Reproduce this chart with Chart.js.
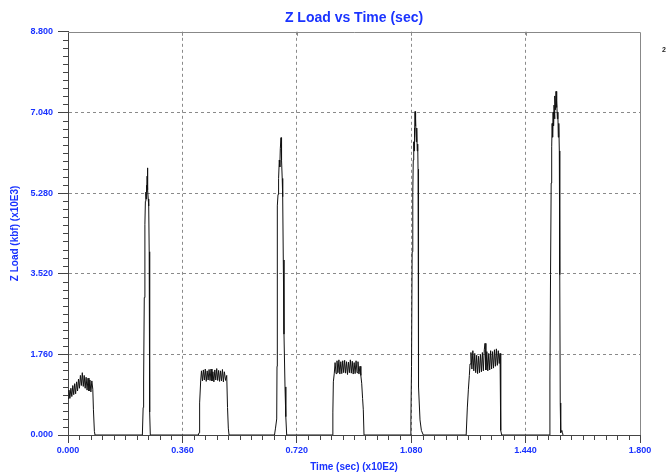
<!DOCTYPE html>
<html>
<head>
<meta charset="utf-8">
<script src="https://cdn.jsdelivr.net/npm/chart.js@4.4.1/dist/chart.umd.min.js"></script>
<style>
  html, body { margin: 0; padding: 0; background: #fff; }
</style>
</head>
<body>
<canvas id="chart" width="670" height="476"></canvas>
<script>
const xTicks = [0, 0.36, 0.72, 1.08, 1.44, 1.8];
const yTicks = [0, 1.76, 3.52, 5.28, 7.04, 8.8];

// [time (sec x10E2), Z load (kbf x10E3)]
const block1 = [
  [0.000, 0.80], [0.003, 0.98], [0.006, 0.80], [0.009, 1.02], [0.012, 0.84],
  [0.015, 1.08], [0.018, 0.88], [0.021, 1.12], [0.024, 0.90], [0.027, 1.16],
  [0.030, 0.96], [0.033, 1.22], [0.036, 1.02], [0.039, 1.30], [0.042, 1.08],
  [0.045, 1.36], [0.048, 1.06], [0.051, 1.30], [0.054, 1.02], [0.057, 1.26],
  [0.060, 0.98], [0.063, 1.24], [0.066, 0.96], [0.069, 1.20], [0.072, 0.94],
  [0.075, 1.18], [0.078, 1.00], [0.080, 0.55], [0.083, 0.08], [0.085, 0.00]
];
const spike1 = [
  [0.2340, 0], [0.2365, 0.60], [0.2380, 1.20], [0.2400, 3.00], [0.2420, 4.60],
  [0.2435, 5.10], [0.2450, 5.30], [0.2460, 5.15], [0.2470, 5.45], [0.2480, 5.30],
  [0.2490, 5.65], [0.2497, 5.83], [0.2505, 5.50], [0.2515, 5.35], [0.2525, 5.15],
  [0.2540, 5.00], [0.2555, 4.00], [0.2565, 2.00], [0.2575, 0.50], [0.2590, 0]
];
const block2 = [
  [0.4100, 0], [0.4125, 0.05], [0.4135, 0.30], [0.4150, 0.70], [0.4175, 1.18],
  [0.4200, 1.40], [0.4230, 1.18], [0.4260, 1.42], [0.4290, 1.20], [0.4320, 1.44],
  [0.4350, 1.17], [0.4380, 1.40], [0.4410, 1.20], [0.4440, 1.43], [0.4470, 1.19],
  [0.4500, 1.44], [0.4530, 1.18], [0.4560, 1.38], [0.4590, 1.16], [0.4620, 1.42],
  [0.4650, 1.20], [0.4680, 1.45], [0.4710, 1.19], [0.4740, 1.41], [0.4770, 1.17],
  [0.4800, 1.40], [0.4830, 1.18], [0.4860, 1.43], [0.4890, 1.16], [0.4920, 1.38],
  [0.4960, 1.19], [0.4995, 1.30], [0.5020, 0.60], [0.5045, 0.15], [0.5067, 0]
];
const spike2 = [
  [0.6498, 0], [0.6530, 0.15], [0.6568, 0.35], [0.6577, 1.50], [0.6587, 5.00],
  [0.6609, 5.25], [0.6627, 5.60], [0.6649, 6.00], [0.6665, 5.85], [0.6681, 6.25],
  [0.6703, 6.49], [0.6715, 6.15], [0.6725, 6.00], [0.6741, 5.60], [0.6756, 5.20],
  [0.6775, 3.82], [0.6797, 2.20], [0.6829, 1.05], [0.6854, 0.40], [0.6882, 0]
];
const block3 = [
  [0.8320, 0], [0.8335, 0.50], [0.8350, 1.16], [0.8380, 1.35], [0.8405, 1.58],
  [0.8435, 1.34], [0.8465, 1.62], [0.8495, 1.36], [0.8525, 1.64], [0.8555, 1.33],
  [0.8585, 1.60], [0.8615, 1.34], [0.8645, 1.62], [0.8675, 1.36], [0.8705, 1.63],
  [0.8735, 1.35], [0.8765, 1.60], [0.8795, 1.32], [0.8825, 1.59], [0.8855, 1.36],
  [0.8885, 1.64], [0.8915, 1.35], [0.8945, 1.61], [0.8975, 1.33], [0.9005, 1.58],
  [0.9035, 1.34], [0.9065, 1.62], [0.9095, 1.36], [0.9125, 1.60], [0.9155, 1.33],
  [0.9189, 1.50], [0.9215, 1.30], [0.9242, 1.13], [0.9270, 0.80], [0.9293, 0.55],
  [0.9315, 0]
];
const spike3 = [
  [1.0770, 0], [1.0790, 0.30], [1.0810, 1.50], [1.0830, 4.00], [1.0850, 5.30],
  [1.0865, 6.00], [1.0880, 6.40], [1.0890, 6.20], [1.0900, 6.70], [1.0910, 6.50],
  [1.0920, 7.06], [1.0930, 6.75], [1.0945, 6.90], [1.0960, 6.40], [1.0975, 6.70],
  [1.0990, 6.20], [1.1005, 6.35], [1.1015, 5.80], [1.1024, 4.50], [1.1030, 2.50],
  [1.1038, 1.05], [1.1077, 0.33], [1.1120, 0.10], [1.1181, 0]
];
const block4 = [
  [1.2530, 0], [1.2566, 0.59], [1.2600, 1.00], [1.2630, 1.30], [1.2651, 1.55],
  [1.2680, 1.80], [1.2710, 1.44], [1.2740, 1.84], [1.2770, 1.40], [1.2800, 1.78],
  [1.2830, 1.36], [1.2860, 1.74], [1.2890, 1.34], [1.2920, 1.72], [1.2950, 1.36],
  [1.2980, 1.76], [1.3010, 1.38], [1.3040, 1.80], [1.3070, 1.40], [1.3100, 1.86],
  [1.3123, 2.00], [1.3150, 1.42], [1.3180, 1.82], [1.3210, 1.40], [1.3240, 1.78],
  [1.3270, 1.42], [1.3300, 1.84], [1.3330, 1.44], [1.3360, 1.82], [1.3390, 1.46],
  [1.3420, 1.86], [1.3450, 1.50], [1.3480, 1.88], [1.3510, 1.52], [1.3540, 1.84],
  [1.3570, 1.56], [1.3595, 1.78], [1.3617, 0.10], [1.3648, 0]
];
const spike4 = [
  [1.5140, 0], [1.5165, 1.20], [1.5185, 3.50], [1.5205, 5.50], [1.5221, 6.29],
  [1.5235, 6.80], [1.5250, 6.50], [1.5265, 7.05], [1.5280, 6.75], [1.5295, 7.20],
  [1.5310, 6.90], [1.5325, 7.40], [1.5340, 7.10], [1.5357, 7.50], [1.5370, 7.15],
  [1.5385, 7.30], [1.5400, 6.90], [1.5415, 7.05], [1.5429, 6.50], [1.5445, 6.80],
  [1.5461, 6.20], [1.5475, 3.50], [1.5490, 0.70], [1.5505, 0.05], [1.5540, 0.10],
  [1.5560, 0.05], [1.5577, 0]
];

const loadPoints = [block1, spike1, block2, spike2, block3, spike3, block4, spike4]
  .flat()
  .map(([x, y]) => ({ x, y }));

const blue = "#1a33ff";
const fontFamily = "'Liberation Sans', Arial, sans-serif";
const minorPerMajor = 10;

// minor ticks, plot frame and the stray "2" at right
const extras = {
  id: "extras",
  afterDraw(chart) {
    const { ctx, chartArea: a, scales: { x, y } } = chart;
    ctx.save();
    ctx.strokeStyle = "#444";
    ctx.lineWidth = 1;
    ctx.beginPath();
    for (let i = 0; i < yTicks.length - 1; i++) {
      const step = (yTicks[i + 1] - yTicks[i]) / minorPerMajor;
      for (let k = 1; k < minorPerMajor; k++) {
        const py = Math.round(y.getPixelForValue(yTicks[i] + k * step)) + 0.5;
        ctx.moveTo(a.left - 5, py);
        ctx.lineTo(a.left, py);
      }
    }
    for (let i = 0; i < xTicks.length - 1; i++) {
      const step = (xTicks[i + 1] - xTicks[i]) / minorPerMajor;
      for (let k = 1; k < minorPerMajor; k++) {
        const px = Math.round(x.getPixelForValue(xTicks[i] + k * step)) + 0.5;
        ctx.moveTo(px, a.bottom);
        ctx.lineTo(px, a.bottom + 5);
      }
    }
    ctx.stroke();

    ctx.strokeStyle = "#888";
    ctx.beginPath();
    ctx.moveTo(a.left, Math.round(a.top) + 0.5);
    ctx.lineTo(Math.round(a.right) + 0.5, Math.round(a.top) + 0.5);
    ctx.lineTo(Math.round(a.right) + 0.5, a.bottom);
    xTicks.slice(1, -1).forEach(v => {
      const px = Math.round(x.getPixelForValue(v)) + 0.5;
      ctx.moveTo(px, a.top);
      ctx.lineTo(px, a.top + 4);
    });
    ctx.stroke();

    ctx.fillStyle = "#222";
    ctx.font = "bold 7px " + fontFamily;
    ctx.textAlign = "center";
    ctx.textBaseline = "middle";
    ctx.fillText("2", 664, 50);
    ctx.restore();
  }
};

const ctx = document.getElementById("chart").getContext("2d");
const chart = new Chart(ctx, {
  type: "line",
  data: {
    datasets: [
      {
        label: "Z Load",
        data: loadPoints,
        borderColor: "#111",
        borderWidth: 1,
        pointRadius: 0,
        tension: 0,
        fill: false
      }
    ]
  },
  options: {
    responsive: false,
    animation: false,
    layout: { padding: { top: 0, left: 0, right: 30, bottom: 0 } },
    plugins: {
      legend: { display: false },
      tooltip: { enabled: false },
      title: {
        display: true,
        text: "Z Load vs Time (sec)",
        color: blue,
        fullSize: false,
        font: { family: fontFamily, size: 14, weight: "bold" },
        padding: { top: 10, bottom: 5 }
      }
    },
    scales: {
      x: {
        type: "linear",
        min: 0,
        max: 1.8,
        afterBuildTicks: s => { s.ticks = xTicks.map(v => ({ value: v })); },
        afterFit: s => { s.height = 41; },
        ticks: {
          color: blue,
          padding: 2,
          maxRotation: 0,
          font: { family: fontFamily, size: 9, weight: "bold" },
          callback: v => Number(v).toFixed(3)
        },
        grid: {
          color: c => (c.tick && (c.tick.value === 0 || c.tick.value === 1.8)) ? "rgba(0,0,0,0)" : "#8a8a8a",
          tickColor: "#444",
          tickLength: 8
        },
        border: { display: true, color: "#444", width: 1, dash: [3, 3] },
        title: {
          display: true,
          text: "Time (sec) (x10E2)",
          color: blue,
          font: { family: fontFamily, size: 10, weight: "bold" },
          padding: { top: 0, bottom: 3 }
        }
      },
      y: {
        min: 0,
        max: 8.8,
        afterBuildTicks: s => { s.ticks = yTicks.map(v => ({ value: v })); },
        afterFit: s => { s.width = 68; },
        ticks: {
          color: blue,
          padding: 5,
          font: { family: fontFamily, size: 9, weight: "bold" },
          callback: v => Number(v).toFixed(3)
        },
        grid: {
          color: c => (c.tick && (c.tick.value === 0 || c.tick.value === 8.8)) ? "rgba(0,0,0,0)" : "#8a8a8a",
          tickColor: "#444",
          tickLength: 10
        },
        border: { display: true, color: "#444", width: 1, dash: [3, 3] },
        title: {
          display: true,
          text: "Z Load (kbf) (x10E3)",
          color: blue,
          font: { family: fontFamily, size: 10, weight: "bold" },
          padding: { top: 9, bottom: 0 }
        }
      }
    }
  },
  plugins: [extras]
});
</script>
</body>
</html>
